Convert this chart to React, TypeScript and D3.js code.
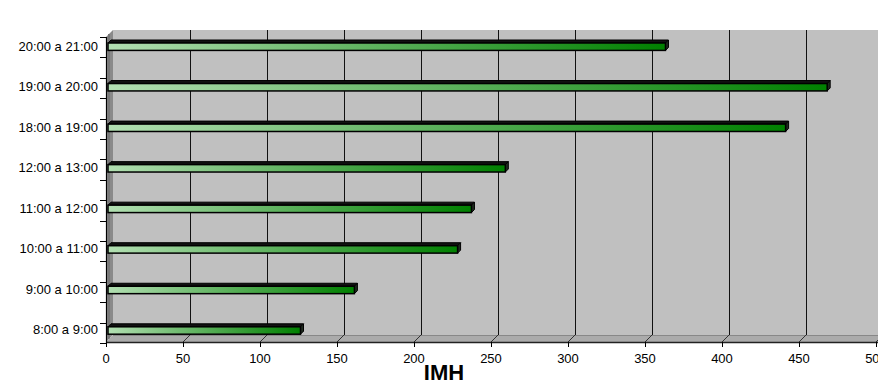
import React from "react";
import * as d3 from "d3";

const categories = [
  "8:00 a 9:00",
  "9:00 a 10:00",
  "10:00 a 11:00",
  "11:00 a 12:00",
  "12:00 a 13:00",
  "18:00 a 19:00",
  "19:00 a 20:00",
  "20:00 a 21:00",
];
const values = [125, 160, 227, 236, 258, 440, 467, 362];
const xTicks = [0, 50, 100, 150, 200, 250, 300, 350, 400, 450, 500];
const xTitle = "IMH";

const W = 878;
const H = 385;
const FONT = "'Liberation Sans', Arial, sans-serif";

export default function App() {
  const x = d3.scaleLinear().domain([0, 500]).range([106, 876]);
  const yTop = 37;
  const yBot = 342;
  const dx = 7;
  const dy = -7;
  const y = d3.scalePoint<string>().domain(categories).range([330.5, 46.7]);
  const tickScale = d3.scaleLinear().domain([0, 15]).range([yBot + 1, yTop]);
  const yTickIdx = d3.range(16);

  const barOff = 2;
  const bd = 3;
  const halfH = 3.7;

  return (
    <svg
      width={W}
      height={H}
      style={{ position: "absolute", left: 0, top: 0, background: "#fff" }}
    >
      <defs>
        <linearGradient id="barGrad" x1="0" y1="0" x2="1" y2="0">
          <stop offset="0" stopColor="#b2dfb2" />
          <stop offset="1" stopColor="#008000" />
        </linearGradient>
      </defs>

      <rect
        x={x(0) + dx}
        y={yTop + dy}
        width={W - (x(0) + dx)}
        height={yBot - yTop}
        fill="#c0c0c0"
      />
      <polygon
        points={`${x(0)},${yTop} ${x(0) + dx},${yTop + dy} ${x(0) + dx},${yBot + dy} ${x(0)},${yBot}`}
        fill="#8a8a8a"
      />
      <line
        x1={x(0) + 3}
        x2={x(0) + 3}
        y1={yTop - 3}
        y2={yBot - 3}
        stroke="#777"
        strokeWidth={2}
      />
      <polygon
        points={`${x(0)},${yBot} ${x(0) + dx},${yBot + dy} ${W},${yBot + dy} ${W},${yBot}`}
        fill="#ababab"
      />
      <line
        x1={x(0) + dx}
        x2={W}
        y1={yBot + dy + 0.5}
        y2={yBot + dy + 0.5}
        stroke="#888"
        strokeWidth={1}
      />

      {xTicks
        .filter((t) => t > 0)
        .map((t) => (
          <g key={"g" + t}>
            <line
              x1={Math.round(x(t) + dx) + 0.5}
              x2={Math.round(x(t) + dx) + 0.5}
              y1={yTop + dy}
              y2={yBot + dy}
              stroke="#111"
              strokeWidth={1}
            />
            <line
              x1={x(t)}
              x2={x(t) + dx}
              y1={yBot}
              y2={yBot + dy}
              stroke="#333"
              strokeWidth={1}
            />
          </g>
        ))}

      {categories.map((c, i) => {
        const cy = y(c) as number;
        const x0 = x(0) + barOff;
        const x1 = x(values[i]) + barOff;
        const top = cy - halfH;
        const bot = cy + halfH;
        return (
          <g key={c}>
            <polygon
              points={`${x0},${top} ${x0 + bd},${top - bd} ${x1 + bd},${top - bd} ${x1},${top}`}
              fill="#111"
              stroke="#000"
              strokeWidth={1}
            />
            <polygon
              points={`${x1},${top} ${x1 + bd},${top - bd} ${x1 + bd},${bot - bd} ${x1},${bot}`}
              fill="#1e2a1e"
              stroke="#000"
              strokeWidth={1}
            />
            <rect
              x={x0}
              y={top}
              width={x1 - x0}
              height={bot - top}
              fill="url(#barGrad)"
              stroke="#000"
              strokeWidth={1.5}
            />
          </g>
        );
      })}

      <line x1={x(0) + 0.5} x2={x(0) + 0.5} y1={yTop} y2={yBot + 1} stroke="#000" strokeWidth={1.2} />
      {yTickIdx.map((k) => (
        <line
          key={"yt" + k}
          x1={x(0) - 6}
          x2={x(0)}
          y1={Math.round(tickScale(k)) + 0.5}
          y2={Math.round(tickScale(k)) + 0.5}
          stroke="#000"
          strokeWidth={1}
        />
      ))}
      {categories.map((c) => (
        <text
          key={"yl" + c}
          x={98}
          y={(y(c) as number) + 0.5}
          textAnchor="end"
          dominantBaseline="middle"
          fontFamily={FONT}
          fontSize={13}
          fill="#000"
        >
          {c}
        </text>
      ))}

      <line x1={x(0)} x2={W} y1={yBot + 0.5} y2={yBot + 0.5} stroke="#222" strokeWidth={1.5} />
      {xTicks.map((t) => (
        <g key={"xt" + t}>
          <line
            x1={Math.round(x(t)) + 0.5}
            x2={Math.round(x(t)) + 0.5}
            y1={yBot}
            y2={yBot + 5}
            stroke="#000"
            strokeWidth={1}
          />
          <text
            x={x(t)}
            y={363}
            textAnchor="middle"
            fontFamily={FONT}
            fontSize={13}
            fill="#000"
          >
            {t}
          </text>
        </g>
      ))}
      <text
        x={444}
        y={380}
        textAnchor="middle"
        fontFamily={FONT}
        fontSize={22}
        fontWeight="bold"
        fill="#000"
      >
        {xTitle}
      </text>
    </svg>
  );
}
